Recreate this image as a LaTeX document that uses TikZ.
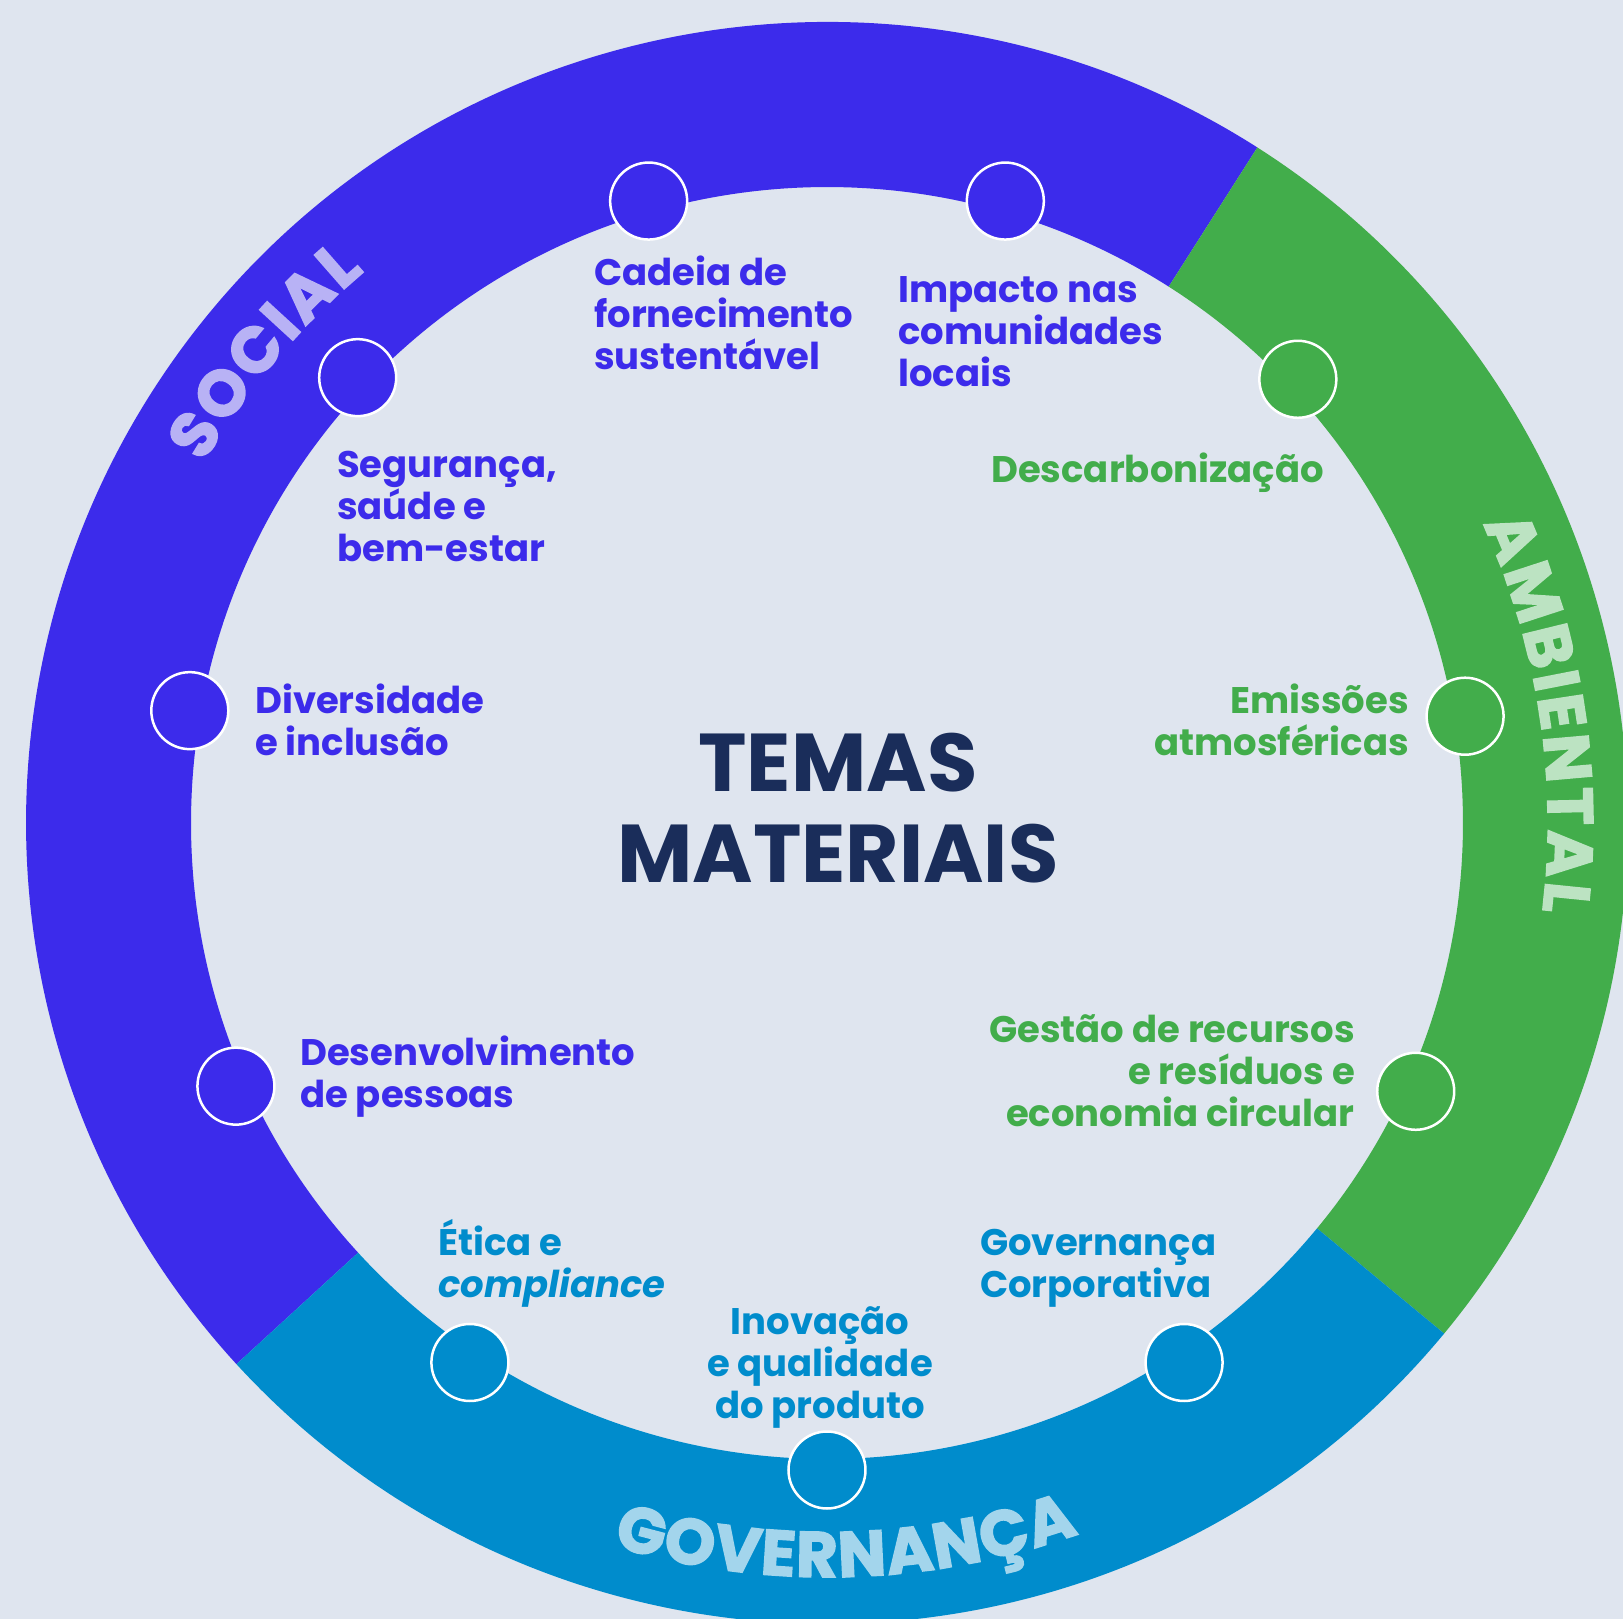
\documentclass[tikz,border=0pt]{standalone}
\usepackage{fontspec}
\setmainfont{Poppins}
\newfontfamily\ringfam{Poppins}[BoldFeatures={FakeBold=2.5}]
\usepackage{xcolor}
\usepackage{tikz}
\usetikzlibrary{decorations.text}

\definecolor{bgcol}{HTML}{DFE5EF}
\definecolor{socialcol}{HTML}{3C2BEB}
\definecolor{ambcol}{HTML}{42AD4B}
\definecolor{govcol}{HTML}{008CCC}
\definecolor{socialtxt}{HTML}{B8B2F5}
\definecolor{ambtxt}{HTML}{BCE3C2}
\definecolor{govtxt}{HTML}{A3D5EC}
\definecolor{titlecol}{HTML}{1A2D5A}

\newcommand\ringfont{\ringfam\fontsize{64}{64}\selectfont\bfseries}

\tikzset{
	dot/.style={circle, draw=white, line width=2.5, minimum size=77, inner sep=0},
	topic/.style={font=\fontsize{37}{42}\selectfont\bfseries, inner sep=0},
	ringtext/.style={decorate, decoration={text along path, text align={fit to path}, text={#1}}}
}

\begin{document}
\begin{tikzpicture}[x=1pt, y=1pt]

\useasboundingbox (-827,-796) rectangle (796,823);
\fill[bgcol] (-827,-796) rectangle (796,823);

\fill[socialcol] (57.5:801) arc[start angle=57.5, end angle=222.5, radius=801]
	-- (222.5:636) arc[start angle=222.5, end angle=57.5, radius=636] -- cycle;
\fill[ambcol] (-39.6:801) arc[start angle=-39.6, end angle=57.5, radius=801]
	-- (57.5:636) arc[start angle=57.5, end angle=-39.6, radius=636] -- cycle;
\fill[govcol] (222.5:801) arc[start angle=222.5, end angle=320.4, radius=801]
	-- (320.4:636) arc[start angle=320.4, end angle=222.5, radius=636] -- cycle;

\path[ringtext={|\ringfont\color{socialtxt}|SOCIAL}]
	(150:720) arc[start angle=150, end angle=130, radius=720];
\path[ringtext={|\ringfont\color{ambtxt}|AMBIENTAL}]
	(24.5:721) arc[start angle=24.5, end angle=-7, radius=721];
\path[ringtext={|\ringfont\color{govtxt}|GOVERNANÇA}]
	(-106.5:754) arc[start angle=-106.5, end angle=-70.5, radius=754];

\foreach \ang/\col [count=\i] in {106/socialcol, 74/socialcol, 136.5/socialcol,
	170/socialcol, 204/socialcol, 43.3/ambcol, 9.5/ambcol, -24.5/ambcol,
	-56.5/govcol, -90/govcol, 236.5/govcol}
	\node[dot, fill=\col] (dot\i) at (\ang:647) {};

\node[font=\fontsize{82}{91}\selectfont\bfseries, text=titlecol, align=center, anchor=base, inner sep=0]
	(title) at (11,-60) {TEMAS\\MATERIAIS};

\node[topic, text=socialcol, align=left, anchor=base west] (cadeia) at (-233,453)
	{Cadeia de\\fornecimento\\sustentável};
\node[topic, text=socialcol, align=left, anchor=base west] (impacto) at (71,436)
	{Impacto nas\\comunidades\\locais};
\node[topic, text=socialcol, align=left, anchor=base west] (seguranca) at (-490,261)
	{Segurança,\\saúde e\\bem-estar};
\node[topic, text=socialcol, align=left, anchor=base west] (diversidade) at (-572,67)
	{Diversidade\\e inclusão};
\node[topic, text=socialcol, align=left, anchor=base west] (desenv) at (-527,-284)
	{Desenvolvimento\\de pessoas};

\node[topic, text=ambcol, anchor=base west] (descarb) at (164,340) {Descarbonização};
\node[topic, text=ambcol, align=right, anchor=base east] (emissoes) at (582,67)
	{Emissões\\atmosféricas};
\node[topic, text=ambcol, align=right, anchor=base east] (gestao) at (528,-303)
	{Gestão de recursos\\e resíduos e\\economia circular};

\node[topic, text=govcol, align=left, anchor=base west] (etica) at (-389,-474)
	{Ética e\\{\itshape compliance}};
\node[topic, text=govcol, align=center, anchor=base] (inovacao) at (-7,-595)
	{Inovação\\e qualidade\\do produto};
\node[topic, text=govcol, align=left, anchor=base west] (governanca) at (153,-474)
	{Governança\\Corporativa};

\end{tikzpicture}
\end{document}
